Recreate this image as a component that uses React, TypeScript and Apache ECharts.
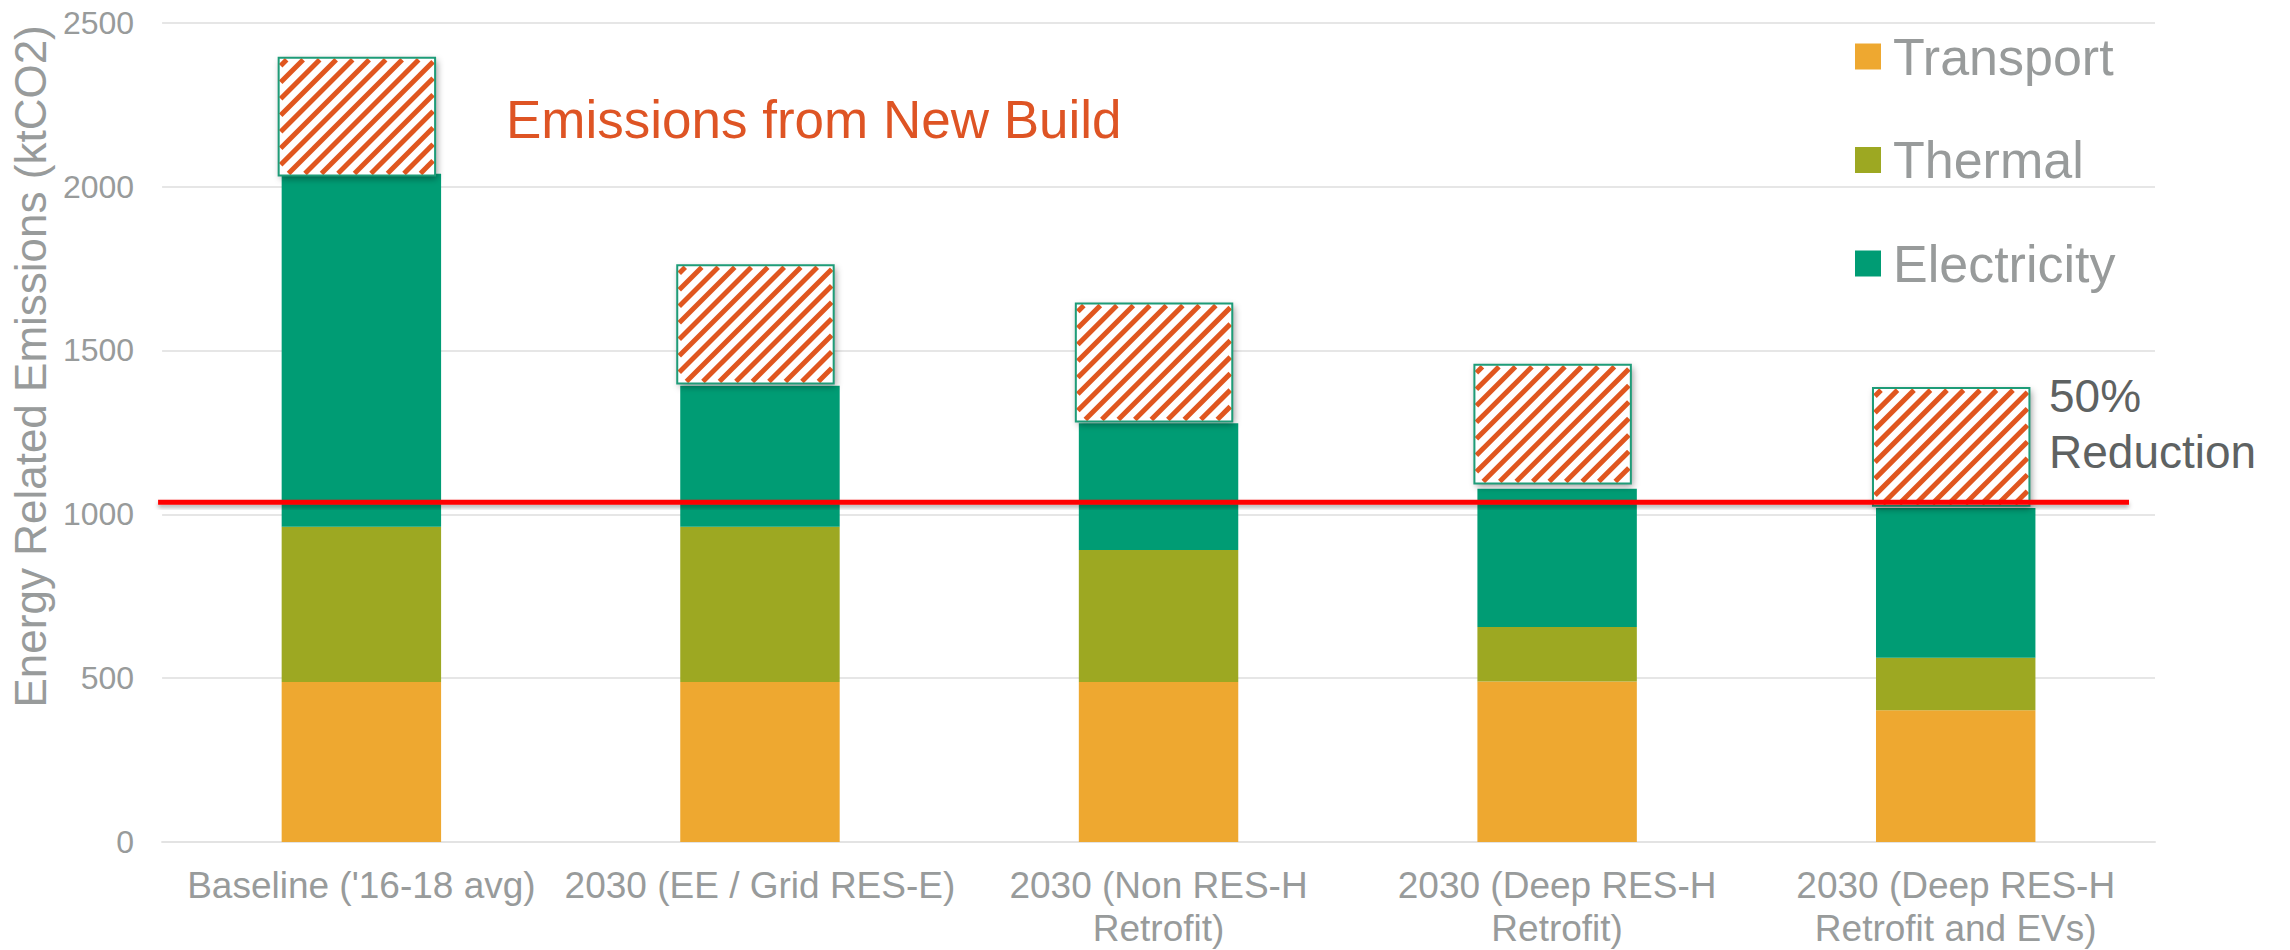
import React, { useEffect, useRef } from "react";
import * as echarts from "echarts";

const categories = [
  "Baseline ('16-18 avg)",
  "2030 (EE / Grid RES-E)",
  "2030 (Non RES-H\nRetrofit)",
  "2030 (Deep RES-H\nRetrofit)",
  "2030 (Deep RES-H\nRetrofit and EVs)",
];
const transport = [488, 488, 488, 490, 402];
const thermal = [474, 474, 403, 166, 160];
const electricity = [1077, 430, 387, 422, 457];
const newBuildLow = [2034, 1399, 1283, 1094, 1026];
const newBuildHigh = [2393, 1760, 1643, 1456, 1385];
const reductionTarget = 1037;
const yMax = 2500;
const yInterval = 500;

const FONT = "'Liberation Sans', Arial, sans-serif";
const GRAY = "#989b9b";
const C_TRANSPORT = "#eea830";
const C_THERMAL = "#9da822";
const C_ELEC = "#009c74";
const C_HATCH = "#e0561f";

export default function App() {
  const ref = useRef<HTMLDivElement>(null);
  useEffect(() => {
    if (!ref.current) return;
    const chart = echarts.init(ref.current, null, { renderer: "svg" });
    const hatchData = categories.map((_, i) => [i, newBuildLow[i], newBuildHigh[i]]);
    const option: any = {
      animation: false,
      backgroundColor: "#ffffff",
      textStyle: { fontFamily: FONT },
      grid: { left: 160, right: 135, top: 22.7, bottom: 106.3, containLabel: false },
      legend: {
        orient: "vertical",
        left: 1850,
        top: 21.5,
        data: ["Transport", "Thermal", "Electricity"],
        icon: "rect",
        itemWidth: 26,
        itemHeight: 26,
        itemGap: 43.5,
        selectedMode: false,
        textStyle: {
          fontSize: 52,
          lineHeight: 60,
          color: GRAY,
          fontFamily: FONT,
          padding: [0, 0, 0, 7],
        },
      },
      xAxis: {
        type: "category",
        data: categories,
        axisTick: { show: false },
        axisLine: { lineStyle: { color: "#e3e3e3", width: 2 } },
        axisLabel: {
          interval: 0,
          color: GRAY,
          fontSize: 37,
          lineHeight: 43,
          margin: 22,
          fontFamily: FONT,
        },
      },
      yAxis: {
        type: "value",
        min: 0,
        max: yMax,
        interval: yInterval,
        name: "Energy Related Emissions (ktCO2)",
        nameLocation: "middle",
        nameGap: 92,
        nameTextStyle: {
          color: GRAY,
          fontSize: 44,
          fontFamily: FONT,
          padding: [0, 0, 0, 132],
        },
        axisLine: { show: false },
        axisTick: { show: false },
        axisLabel: {
          color: GRAY,
          fontSize: 32,
          margin: 28,
          fontFamily: FONT,
          formatter: (v: number) => String(v),
        },
        splitLine: { lineStyle: { color: "#e6e6e6", width: 2 } },
      },
      series: [
        {
          name: "Transport",
          type: "bar",
          stack: "total",
          barWidth: "40%",
          data: transport,
          itemStyle: { color: C_TRANSPORT },
        },
        {
          name: "Thermal",
          type: "bar",
          stack: "total",
          data: thermal,
          itemStyle: { color: C_THERMAL },
        },
        {
          name: "Electricity",
          type: "bar",
          stack: "total",
          data: electricity,
          itemStyle: { color: C_ELEC },
        },
        {
          name: "New Build",
          type: "custom",
          z: 5,
          data: hatchData,
          encode: { x: 0, y: [1, 2] },
          renderItem: (params: any, api: any) => {
            const idx = api.value(0);
            const lo = api.value(1);
            const hi = api.value(2);
            const pTop = api.coord([idx, hi]);
            const pBot = api.coord([idx, lo]);
            const bw = api.size([1, 0])[0] * 0.4;
            const x0 = pTop[0] - bw / 2 - 3;
            const w = bw - 3;
            const y0 = pTop[1];
            const h = pBot[1] - pTop[1];
            const x1 = x0 + w;
            const y1 = y0 + h;
            const children: any[] = [
              {
                type: "rect",
                shape: { x: x0, y: y0, width: w, height: h },
                style: {
                  fill: "#ffffff",
                  shadowBlur: 7,
                  shadowOffsetX: 2,
                  shadowOffsetY: 3,
                  shadowColor: "rgba(0,0,0,0.4)",
                },
              },
            ];
            const ins = 2;
            const ax0 = x0 + ins, ax1 = x1 - ins, ay0 = y0 + ins, ay1 = y1 - ins;
            const step = 16.5;
            for (let c = ax0 + ay0 + 6; c < ax1 + ay1; c += step) {
              const xa = Math.max(ax0, c - ay1);
              const xb = Math.min(ax1, c - ay0);
              if (xb > xa) {
                children.push({
                  type: "line",
                  shape: { x1: xa, y1: c - xa, x2: xb, y2: c - xb },
                  style: { stroke: C_HATCH, lineWidth: 5 },
                });
              }
            }
            children.push({
              type: "rect",
              shape: { x: x0, y: y0, width: w, height: h },
              style: { fill: "none", stroke: "#1e9c78", lineWidth: 2 },
            });
            return { type: "group", children };
          },
        },
        {
          name: "Target",
          type: "custom",
          z: 6,
          data: [[0, reductionTarget]],
          encode: { x: 0, y: 1 },
          renderItem: (params: any, api: any) => {
            const y = api.coord([0, api.value(1)])[1];
            const cs = params.coordSys;
            return {
              type: "rect",
              shape: { x: cs.x - 4, y: y - 2.5, width: cs.width - 22, height: 5 },
              style: {
                fill: "#ff0000",
                shadowBlur: 4,
                shadowOffsetY: 3,
                shadowColor: "rgba(0,0,0,0.3)",
              },
            };
          },
        },
      ],
      graphic: [
        {
          type: "text",
          left: 506,
          top: 87,
          style: {
            text: "Emissions from New Build",
            fill: "#de5424",
            fontSize: 53,
            lineHeight: 64,
            fontFamily: FONT,
          },
        },
        {
          type: "text",
          left: 2049,
          top: 368,
          style: {
            text: "50%\nReduction",
            fill: "#5e6262",
            fontSize: 46,
            lineHeight: 56,
            fontFamily: FONT,
          },
        },
      ],
    };
    chart.setOption(option);
    return () => chart.dispose();
  }, []);
  return (
    <div
      ref={ref}
      style={{ position: "absolute", left: 0, top: 0, width: 2290, height: 950 }}
    />
  );
}
